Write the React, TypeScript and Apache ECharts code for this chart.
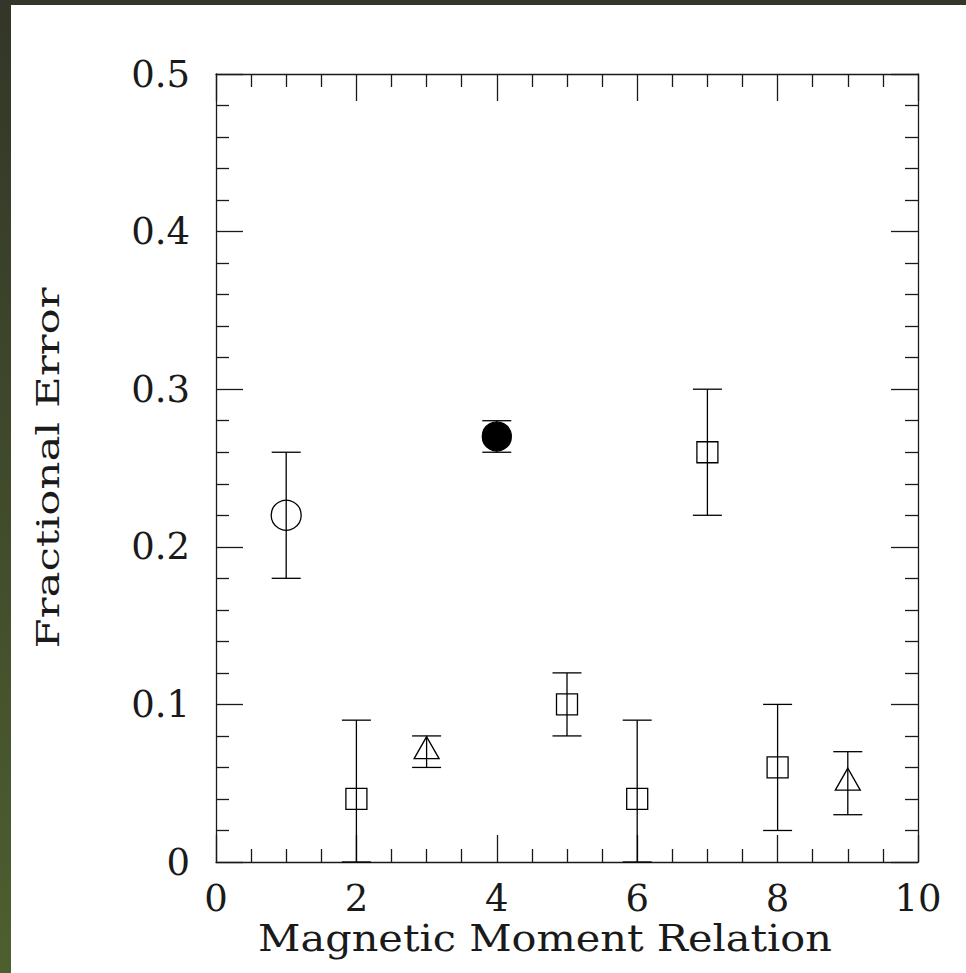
import React, { useEffect, useRef } from "react";
import * as echarts from "echarts";

const relations = [1, 2, 3, 4, 5, 6, 7, 8, 9];
const fractionalError = [0.22, 0.04, 0.07, 0.27, 0.1, 0.04, 0.26, 0.06, 0.05];
const errorLow = [0.18, 0.0, 0.06, 0.26, 0.08, 0.0, 0.22, 0.02, 0.03];
const errorHigh = [0.26, 0.09, 0.08, 0.28, 0.12, 0.09, 0.3, 0.1, 0.07];
const markerKinds = [
  "openCircle",
  "openSquare",
  "openTriangle",
  "filledCircle",
  "openSquare",
  "openSquare",
  "openSquare",
  "openSquare",
  "openTriangle",
];
const xTitle = "Magnetic Moment Relation";
const yTitle = "Fractional Error";

const FONT = "'DejaVu Serif', serif";
const INK = "#1a1a1a";

export default function App() {
  const ref = useRef<HTMLDivElement>(null);
  useEffect(() => {
    if (!ref.current) return;
    const chart = echarts.init(ref.current, undefined, { renderer: "svg" });

    const pointsOf = (kind: string) =>
      relations
        .map((x, i) => (markerKinds[i] === kind ? [x, fractionalError[i]] : null))
        .filter((d) => d !== null);

    const axisCommon = {
      type: "value" as const,
      axisLine: { show: true, onZero: false, lineStyle: { color: INK, width: 1.3 } },
      axisTick: { show: true, inside: true, length: 27, lineStyle: { color: INK, width: 1.3 } },
      minorTick: { show: true, length: 13, lineStyle: { color: INK, width: 1.3 } },
      splitLine: { show: false },
    };

    const xAxisBase = { ...axisCommon, min: 0, max: 10, interval: 2, minorTick: { ...axisCommon.minorTick, splitNumber: 4 } };
    const yAxisBase = { ...axisCommon, min: 0, max: 0.5, interval: 0.1, minorTick: { ...axisCommon.minorTick, splitNumber: 5 } };

    const markerStyle = (filled: boolean) => ({
      color: filled ? "#000" : "rgba(0,0,0,0)",
      borderColor: "#000",
      borderWidth: 1.3,
      opacity: 1,
    });

    chart.setOption({
      animation: false,
      backgroundColor: "#fff",
      grid: { left: 216, top: 74, right: 48, bottom: 111, containLabel: false },
      xAxis: [
        {
          ...xAxisBase,
          position: "bottom",
          axisLabel: { show: true, margin: 18, fontFamily: FONT, fontSize: 37, color: INK },
        },
        { ...xAxisBase, position: "top", axisLabel: { show: false } },
      ],
      yAxis: [
        {
          ...yAxisBase,
          position: "left",
          axisLabel: {
            show: true,
            margin: 26,
            fontFamily: FONT,
            fontSize: 37,
            color: INK,
            formatter: (v: number) => (v === 0 ? "0" : v.toFixed(1)),
          },
        },
        { ...yAxisBase, position: "right", axisLabel: { show: false } },
      ],
      graphic: [
        {
          type: "rect",
          shape: { x: 0, y: 0, width: 966, height: 5 },
          style: { fill: "#333628" },
          silent: true,
        },
        {
          type: "rect",
          shape: { x: 0, y: 0, width: 11, height: 973 },
          style: {
            fill: new echarts.graphic.LinearGradient(0, 0, 0, 1, [
              { offset: 0, color: "#333628" },
              { offset: 1, color: "#4e5f2f" },
            ]),
          },
          silent: true,
        },
        {
          type: "text",
          x: 545,
          y: 938,
          scaleX: 1.12,
          style: {
            text: xTitle,
            font: `37px ${FONT}`,
            fill: INK,
            textAlign: "center",
            textVerticalAlign: "middle",
          },
        },
        {
          type: "text",
          x: 48,
          y: 468,
          rotation: Math.PI / 2,
          scaleX: 1.36,
          style: {
            text: yTitle,
            font: `32px ${FONT}`,
            fill: INK,
            textAlign: "center",
            textVerticalAlign: "middle",
          },
        },
      ],
      series: [
        {
          type: "custom",
          xAxisIndex: 0,
          yAxisIndex: 0,
          data: relations.map((x, i) => [x, errorLow[i], errorHigh[i]]),
          renderItem: (params: any, api: any) => {
            const lo = api.coord([api.value(0), api.value(1)]);
            const hi = api.coord([api.value(0), api.value(2)]);
            const half = 14.5;
            const st = { stroke: "#000", lineWidth: 1.3 };
            return {
              type: "group",
              children: [
                { type: "line", shape: { x1: lo[0], y1: lo[1], x2: hi[0], y2: hi[1] }, style: st },
                { type: "line", shape: { x1: lo[0] - half, y1: lo[1], x2: lo[0] + half, y2: lo[1] }, style: st },
                { type: "line", shape: { x1: hi[0] - half, y1: hi[1], x2: hi[0] + half, y2: hi[1] }, style: st },
              ],
            };
          },
          z: 2,
        },
        {
          type: "scatter",
          data: pointsOf("openCircle"),
          symbol: "circle",
          symbolSize: 30,
          itemStyle: markerStyle(false),
          z: 3,
        },
        {
          type: "scatter",
          data: pointsOf("filledCircle"),
          symbol: "circle",
          symbolSize: 29,
          itemStyle: markerStyle(true),
          z: 3,
        },
        {
          type: "scatter",
          data: pointsOf("openSquare"),
          symbol: "rect",
          symbolSize: 21,
          itemStyle: markerStyle(false),
          z: 3,
        },
        {
          type: "scatter",
          data: pointsOf("openTriangle"),
          symbol: "triangle",
          symbolSize: [25, 22],
          symbolOffset: [0, -4],
          itemStyle: markerStyle(false),
          z: 3,
        },
      ],
    });
    return () => chart.dispose();
  }, []);

  return (
    <div
      ref={ref}
      style={{ position: "absolute", left: 0, top: 0, width: 966, height: 973, background: "#fff" }}
    />
  );
}
